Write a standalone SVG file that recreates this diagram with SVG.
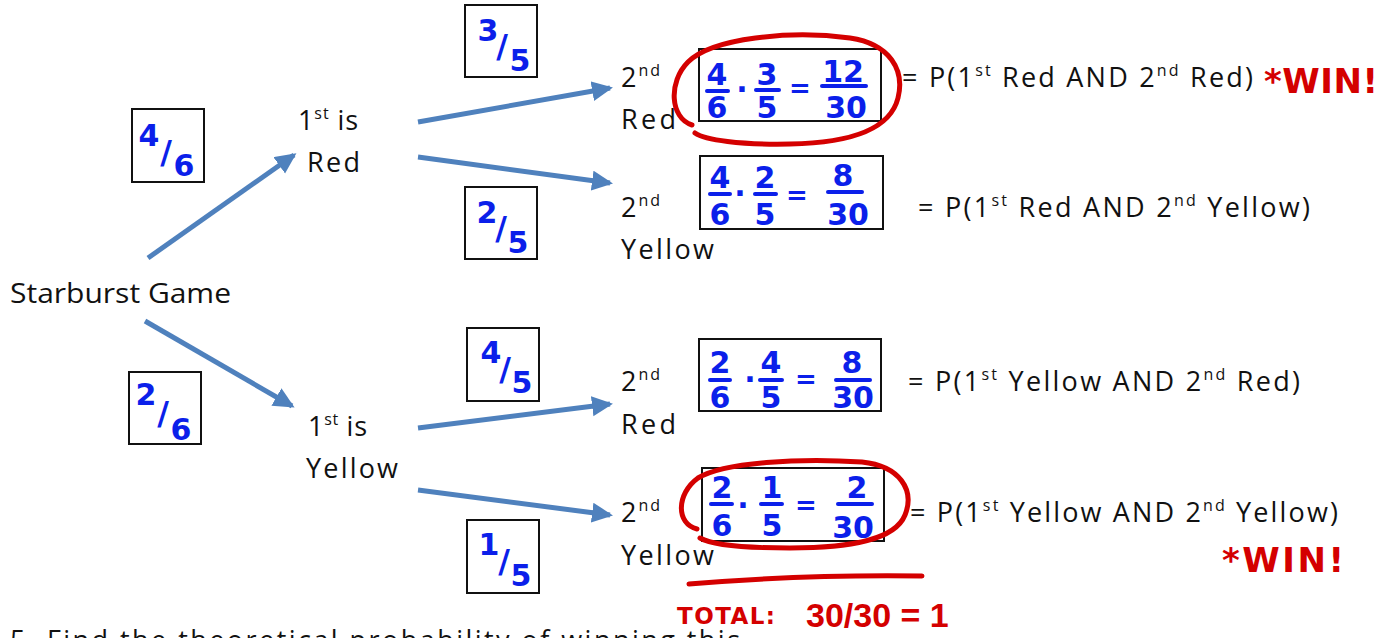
<svg xmlns="http://www.w3.org/2000/svg" width="1393" height="638" viewBox="0 0 1393 638">
<style>
  .t { font-family: "Open Sans", Lato, "Liberation Sans", sans-serif; font-size: 27px; fill: #111; }
  .sup { font-size: 16px; }
  .box { fill: #fff; stroke: #111; stroke-width: 2; }
  .hw { font-family: "DejaVu Sans", "Liberation Sans", sans-serif; font-weight: bold; fill: #0B1FEA; text-anchor: middle; }
  .hbar { stroke: #0B1FEA; stroke-width: 4; stroke-linecap: round; }
  .conn { stroke: #4F81BD; stroke-width: 5; fill: none; }
  .red { stroke: #D40000; stroke-width: 5; fill: none; stroke-linecap: round; stroke-linejoin: round; }
  .rt { font-family: "DejaVu Sans", "Liberation Sans", sans-serif; font-weight: bold; fill: #D40000; }
</style>
<defs>
  <marker id="ah" markerUnits="userSpaceOnUse" markerWidth="24" markerHeight="22" refX="18" refY="10" orient="auto">
    <path d="M0,0 L21,10 L0,20 Z" fill="#4F81BD"/>
  </marker>
</defs>
<rect width="1393" height="638" fill="#fff"/>

<g id="connectors">
  <line class="conn" x1="148" y1="258" x2="294" y2="155" marker-end="url(#ah)"/>
  <line class="conn" x1="145" y1="321" x2="292" y2="406" marker-end="url(#ah)"/>
  <line class="conn" x1="418" y1="122" x2="610" y2="88" marker-end="url(#ah)"/>
  <line class="conn" x1="418" y1="157" x2="610" y2="183" marker-end="url(#ah)"/>
  <line class="conn" x1="418" y1="428" x2="610" y2="404" marker-end="url(#ah)"/>
  <line class="conn" x1="418" y1="490" x2="610" y2="515" marker-end="url(#ah)"/>
</g>

<g id="start"><text class="t" x="10" y="303" textLength="221" lengthAdjust="spacingAndGlyphs">Starburst Game</text></g>

<g id="first-red">
  <text class="t" x="298" y="130" textLength="60">1<tspan class="sup" dy="-11">st</tspan><tspan dy="11"> is</tspan></text>
  <text class="t" x="307" y="172" textLength="53">Red</text>
</g>
<g id="first-yellow">
  <text class="t" x="308" y="436" textLength="59">1<tspan class="sup" dy="-11">st</tspan><tspan dy="11"> is</tspan></text>
  <text class="t" x="306" y="478" textLength="92">Yellow</text>
</g>

<g id="second-rr">
  <text class="t" x="621" y="87" textLength="39">2<tspan class="sup" dy="-11">nd</tspan></text>
  <text class="t" x="621" y="129" textLength="55">Red</text>
</g>
<g id="second-ry">
  <text class="t" x="621" y="217" textLength="39">2<tspan class="sup" dy="-11">nd</tspan></text>
  <text class="t" x="621" y="259" textLength="93">Yellow</text>
</g>
<g id="second-yr">
  <text class="t" x="621" y="391" textLength="39">2<tspan class="sup" dy="-11">nd</tspan></text>
  <text class="t" x="621" y="434" textLength="55">Red</text>
</g>
<g id="second-yy">
  <text class="t" x="621" y="522" textLength="39">2<tspan class="sup" dy="-11">nd</tspan></text>
  <text class="t" x="621" y="565" textLength="93">Yellow</text>
</g>

<!-- branch probability boxes -->
<g id="p-4-6">
  <rect class="box" x="132" y="109" width="72" height="73"/>
  <text class="hw" font-size="30"><tspan x="149" y="146">4</tspan><tspan x="166" y="163" font-size="32">/</tspan><tspan x="184" y="176">6</tspan></text>
</g>
<g id="p-2-6">
  <rect class="box" x="129" y="372" width="72" height="72"/>
  <text class="hw" font-size="30"><tspan x="146" y="405">2</tspan><tspan x="163" y="424" font-size="32">/</tspan><tspan x="181" y="440">6</tspan></text>
</g>
<g id="p-3-5">
  <rect class="box" x="465" y="5" width="72" height="72"/>
  <text class="hw" font-size="30"><tspan x="488" y="41">3</tspan><tspan x="502" y="57" font-size="32">/</tspan><tspan x="520" y="71">5</tspan></text>
</g>
<g id="p-2-5">
  <rect class="box" x="465" y="187" width="72" height="72"/>
  <text class="hw" font-size="30"><tspan x="487" y="223">2</tspan><tspan x="501" y="239" font-size="32">/</tspan><tspan x="518" y="253">5</tspan></text>
</g>
<g id="p-4-5">
  <rect class="box" x="467" y="328" width="72" height="73"/>
  <text class="hw" font-size="30"><tspan x="491" y="363">4</tspan><tspan x="505" y="380" font-size="32">/</tspan><tspan x="522" y="393">5</tspan></text>
</g>
<g id="p-1-5">
  <rect class="box" x="467" y="520" width="72" height="73"/>
  <text class="hw" font-size="30"><tspan x="489" y="555">1</tspan><tspan x="504" y="572" font-size="32">/</tspan><tspan x="521" y="586">5</tspan></text>
</g>

<!-- product boxes -->
<g id="calc-rr">
  <rect class="box" x="699" y="49" width="182" height="72"/>
  <g class="hw" font-size="30">
    <text x="717" y="85">4</text><text x="717" y="118">6</text>
    <text x="742" y="100">·</text>
    <text x="767" y="85">3</text><text x="767" y="118">5</text>
    <text x="800" y="97" font-size="26">=</text>
    <text x="843" y="82">12</text><text x="846" y="118">30</text>
  </g>
  <line class="hbar" x1="707" y1="91" x2="728" y2="91"/>
  <line class="hbar" x1="756" y1="90" x2="779" y2="90"/>
  <line class="hbar" x1="822" y1="86" x2="866" y2="86"/>
</g>
<g id="calc-ry">
  <rect class="box" x="700" y="156" width="183" height="73"/>
  <g class="hw" font-size="30">
    <text x="720" y="188">4</text><text x="720" y="225">6</text>
    <text x="740" y="204">·</text>
    <text x="765" y="188">2</text><text x="765" y="225">5</text>
    <text x="797" y="204" font-size="26">=</text>
    <text x="843" y="186">8</text><text x="848" y="225">30</text>
  </g>
  <line class="hbar" x1="710" y1="194" x2="730" y2="194"/>
  <line class="hbar" x1="755" y1="194" x2="776" y2="194"/>
  <line class="hbar" x1="828" y1="192" x2="862" y2="192"/>
</g>
<g id="calc-yr">
  <rect class="box" x="699" y="339" width="182" height="72"/>
  <g class="hw" font-size="30">
    <text x="720" y="373">2</text><text x="720" y="408">6</text>
    <text x="750" y="390">·</text>
    <text x="771" y="373">4</text><text x="771" y="408">5</text>
    <text x="806" y="388" font-size="26">=</text>
    <text x="852" y="373">8</text><text x="853" y="408">30</text>
  </g>
  <line class="hbar" x1="710" y1="380" x2="730" y2="380"/>
  <line class="hbar" x1="760" y1="380" x2="782" y2="380"/>
  <line class="hbar" x1="836" y1="380" x2="870" y2="380"/>
</g>
<g id="calc-yy">
  <rect class="box" x="702" y="468" width="182" height="73"/>
  <g class="hw" font-size="30">
    <text x="722" y="498">2</text><text x="722" y="536">6</text>
    <text x="743" y="516">·</text>
    <text x="772" y="498">1</text><text x="772" y="536">5</text>
    <text x="806" y="514" font-size="26">=</text>
    <text x="857" y="498">2</text><text x="853" y="538">30</text>
  </g>
  <line class="hbar" x1="711" y1="504" x2="732" y2="504"/>
  <line class="hbar" x1="761" y1="504" x2="782" y2="504"/>
  <line class="hbar" x1="838" y1="504" x2="872" y2="504"/>
</g>

<!-- probability statements -->
<g id="eq-rr"><text class="t" x="902" y="87" textLength="351">= P(1<tspan class="sup" dy="-11">st</tspan><tspan dy="11"> Red AND 2</tspan><tspan class="sup" dy="-11">nd</tspan><tspan dy="11"> Red)</tspan></text></g>
<g id="eq-ry"><text class="t" x="918" y="217" textLength="392">= P(1<tspan class="sup" dy="-11">st</tspan><tspan dy="11"> Red AND 2</tspan><tspan class="sup" dy="-11">nd</tspan><tspan dy="11"> Yellow)</tspan></text></g>
<g id="eq-yr"><text class="t" x="908" y="391" textLength="392">= P(1<tspan class="sup" dy="-11">st</tspan><tspan dy="11"> Yellow AND 2</tspan><tspan class="sup" dy="-11">nd</tspan><tspan dy="11"> Red)</tspan></text></g>
<g id="eq-yy"><text class="t" x="910" y="522" textLength="428">= P(1<tspan class="sup" dy="-11">st</tspan><tspan dy="11"> Yellow AND 2</tspan><tspan class="sup" dy="-11">nd</tspan><tspan dy="11"> Yellow)</tspan></text></g>

<!-- red annotations -->
<g id="annotations">
  <path class="red" d="M692,125 C670,118 668,82 688,62 C712,38 790,30 850,38 C890,44 905,70 898,98 C890,130 850,143 790,144 C740,145 705,140 695,133"/>
  <path class="red" d="M697,529 C676,524 676,494 698,478 C724,462 800,458 862,462 C900,466 915,490 905,515 C895,540 850,548 790,548 C745,548 712,545 700,538"/>
  <text class="rt" x="1264" y="93" font-size="34" textLength="114">*WIN!</text>
  <text class="rt" x="1222" y="572" font-size="34" textLength="122">*WIN!</text>
  <path class="red" d="M689,584 C760,578 850,575 922,576"/>
  <text class="rt" x="677" y="624" font-size="23" textLength="98">TOTAL:</text>
  <text x="806" y="627" font-family="'Liberation Sans', Arial, sans-serif" font-weight="bold" font-size="34" fill="#D40000">30/30 = 1</text>
</g>

<g id="question"><text class="t" x="10" y="650" textLength="730">5.  Find the theoretical probability of winning this</text></g>
</svg>
